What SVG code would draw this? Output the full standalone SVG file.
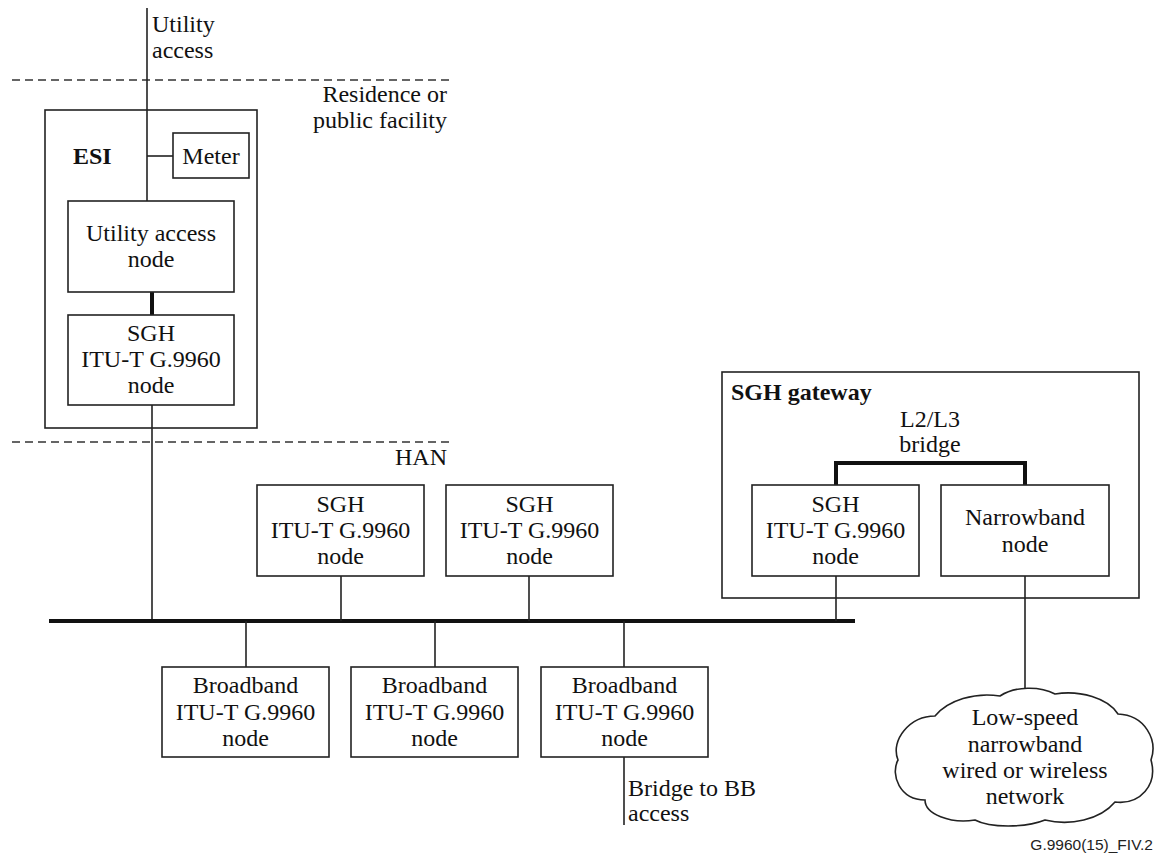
<svg xmlns="http://www.w3.org/2000/svg" width="1158" height="856" viewBox="0 0 1158 856">
<style>
.bg{fill:#fff}
.box{fill:#fff;stroke:#222;stroke-width:1.6}
.frame{fill:none;stroke:#222;stroke-width:1.6}
.ln{fill:none;stroke:#222;stroke-width:1.6}
.thick{fill:none;stroke:#111;stroke-width:4}
.dash{fill:none;stroke:#333;stroke-width:1.6;stroke-dasharray:8 5}
text{font-family:"Liberation Serif","Times New Roman",serif;font-size:24px;fill:#111}
.c{text-anchor:middle}
.r{text-anchor:end}
.b{font-weight:bold}
.foot{font-family:"Liberation Sans",Arial,sans-serif;font-size:15.5px;fill:#222}
</style>
<rect class="bg" x="0" y="0" width="1158" height="856"/>

<g id="boundaries">
  <line class="dash" x1="12" y1="80" x2="450" y2="80"/>
  <line class="dash" x1="12" y1="442" x2="450" y2="442"/>
  <text x="152" y="32">Utility</text>
  <text x="152" y="58">access</text>
  <text class="r" x="447" y="102">Residence or</text>
  <text class="r" x="447" y="128">public facility</text>
  <text class="r" x="447" y="465">HAN</text>
</g>

<g id="esi">
  <rect class="frame" x="45" y="110" width="212" height="318"/>
  <text class="b" x="73" y="164">ESI</text>
</g>

<g id="sgh-gateway">
  <rect class="frame" x="722" y="372" width="417" height="226"/>
  <text class="b" x="731" y="400">SGH gateway</text>
  <text class="c" x="930" y="427">L2/L3</text>
  <text class="c" x="930" y="452">bridge</text>
</g>

<g id="connectors">
  <line class="ln" x1="147" y1="8" x2="147" y2="201"/>
  <line class="ln" x1="147" y1="156" x2="173" y2="156"/>
  <line class="thick" x1="152" y1="292" x2="152" y2="315"/>
  <line class="ln" x1="152" y1="405" x2="152" y2="621"/>
  <line class="thick" x1="49" y1="621" x2="855" y2="621"/>
  <line class="ln" x1="341" y1="576" x2="341" y2="621"/>
  <line class="ln" x1="529" y1="576" x2="529" y2="621"/>
  <line class="ln" x1="836" y1="576" x2="836" y2="621"/>
  <line class="ln" x1="246" y1="621" x2="246" y2="667"/>
  <line class="ln" x1="435" y1="621" x2="435" y2="667"/>
  <line class="ln" x1="624" y1="621" x2="624" y2="667"/>
  <line class="ln" x1="624" y1="757" x2="624" y2="825"/>
  <polyline class="thick" points="836,485 836,463 1025,463 1025,485"/>
  <line class="ln" x1="1025" y1="576" x2="1025" y2="689"/>
</g>

<g id="meter">
  <rect class="box" x="173" y="133" width="76" height="45"/>
  <text class="c" x="211" y="164">Meter</text>
</g>

<g id="utility-access-node">
  <rect class="box" x="68" y="201" width="166" height="91"/>
  <text class="c" x="151" y="241">Utility access</text>
  <text class="c" x="151" y="267">node</text>
</g>

<g id="esi-sgh-node">
  <rect class="box" x="68" y="315" width="166" height="90"/>
  <text class="c" x="151" y="341">SGH</text>
  <text class="c" x="151" y="367">ITU-T G.9960</text>
  <text class="c" x="151" y="393">node</text>
</g>

<g id="sgh-node-1">
  <rect class="box" x="257" y="485" width="167" height="91"/>
  <text class="c" x="340.5" y="512">SGH</text>
  <text class="c" x="340.5" y="538">ITU-T G.9960</text>
  <text class="c" x="340.5" y="564">node</text>
</g>

<g id="sgh-node-2">
  <rect class="box" x="446" y="485" width="167" height="91"/>
  <text class="c" x="529.5" y="512">SGH</text>
  <text class="c" x="529.5" y="538">ITU-T G.9960</text>
  <text class="c" x="529.5" y="564">node</text>
</g>

<g id="gateway-sgh-node">
  <rect class="box" x="752" y="485" width="167" height="91"/>
  <text class="c" x="835.5" y="512">SGH</text>
  <text class="c" x="835.5" y="538">ITU-T G.9960</text>
  <text class="c" x="835.5" y="564">node</text>
</g>

<g id="narrowband-node">
  <rect class="box" x="941" y="485" width="168" height="91"/>
  <text class="c" x="1025" y="525">Narrowband</text>
  <text class="c" x="1025" y="552">node</text>
</g>

<g id="broadband-node-1">
  <rect class="box" x="162" y="667" width="167" height="90"/>
  <text class="c" x="245.5" y="693">Broadband</text>
  <text class="c" x="245.5" y="720">ITU-T G.9960</text>
  <text class="c" x="245.5" y="746">node</text>
</g>

<g id="broadband-node-2">
  <rect class="box" x="351" y="667" width="167" height="90"/>
  <text class="c" x="434.5" y="693">Broadband</text>
  <text class="c" x="434.5" y="720">ITU-T G.9960</text>
  <text class="c" x="434.5" y="746">node</text>
</g>

<g id="broadband-node-3">
  <rect class="box" x="541" y="667" width="167" height="90"/>
  <text class="c" x="624.5" y="693">Broadband</text>
  <text class="c" x="624.5" y="720">ITU-T G.9960</text>
  <text class="c" x="624.5" y="746">node</text>
  <text x="628" y="796">Bridge to BB</text>
  <text x="628" y="821">access</text>
</g>

<g id="cloud">
  <path class="box" d="M 935,716 C 948,700 975,692 1000,696 C 1015,686 1040,686 1055,694 C 1080,690 1108,698 1118,714 C 1145,715 1158,740 1151,760 C 1158,785 1140,805 1115,802 C 1100,820 1070,826 1045,820 C 1025,828 990,828 975,820 C 950,824 925,814 925,800 C 900,800 890,775 898,760 C 890,740 910,716 935,716 Z"/>
  <text class="c" x="1025" y="725">Low-speed</text>
  <text class="c" x="1025" y="752">narrowband</text>
  <text class="c" x="1025" y="778">wired or wireless</text>
  <text class="c" x="1025" y="804">network</text>
</g>

<text class="foot r" x="1153" y="850">G.9960(15)_FIV.2</text>
</svg>
